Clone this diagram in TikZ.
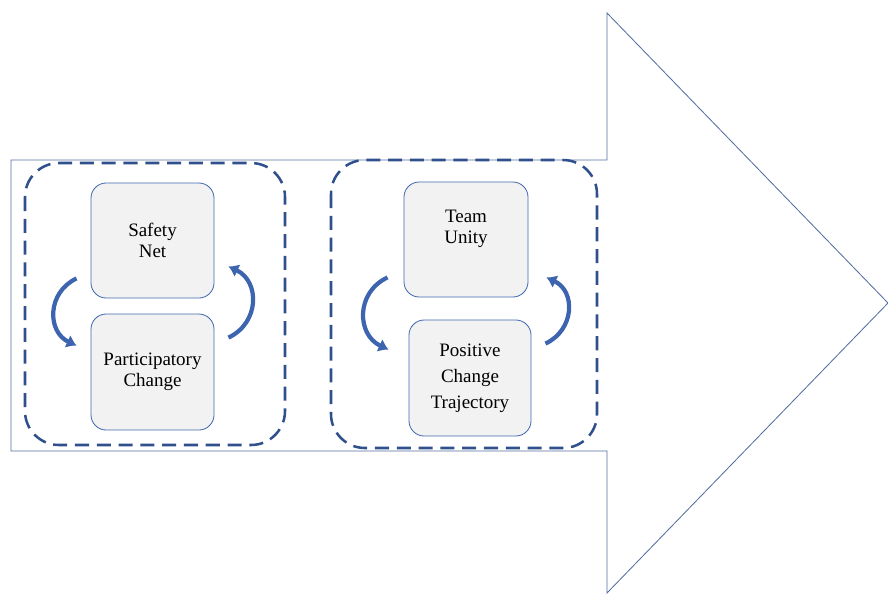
\documentclass[tikz,border=0pt]{standalone}
\usepackage{fontspec}
\setmainfont{Liberation Serif}
\newfontfamily\stagefont{Liberation Serif}
\usepackage{tikz}
\usetikzlibrary{shapes}
\usetikzlibrary{calc}
\usetikzlibrary{positioning}
\usetikzlibrary{arrows.meta}
\definecolor{outlineBlue}{RGB}{84,110,160}
\definecolor{dashBlue}{RGB}{47,80,140}
\definecolor{boxBlue}{RGB}{68,104,176}
\definecolor{curveBlue}{RGB}{60,100,175}
\definecolor{boxFill}{RGB}{242,242,242}

\begin{document}
\begin{tikzpicture}[x=0.025cm,y=-0.025cm]
			\tikzstyle{group}=[draw=dashBlue, line width=1.8pt, dash pattern=on 10pt off 5.5pt, rounded corners=0.85cm]
			\tikzstyle{stage}=[rectangle, draw=boxBlue, line width=0.6pt, fill=boxFill, rounded corners=0.38cm, align=center, font=\stagefont\fontsize{13.5}{15}\selectfont]
			\tikzstyle{cycle}=[draw=curveBlue, line width=3pt, -{Latex[length=7pt,width=10pt]}]
			\useasboundingbox (0,0) rectangle (888,595);

			\draw[outlineBlue, line width=0.6pt] (11,160) -- (607,160) -- (607,13) -- (888,303) -- (607,593) -- (607,451) -- (11,451) -- cycle;

			\draw[group] (25,163) rectangle (285,445);
			\draw[group] (331,160) rectangle (597,448);

			\node[stage, minimum width=3.075cm, minimum height=2.875cm] at (152.5, 240.5) (safetyNet) {Safety\\Net};
			\node[stage, minimum width=3.075cm, minimum height=2.9cm] at (152.5, 372) (participatoryChange) {Participatory\\Change};
			\node[stage, minimum width=3.1cm, minimum height=2.875cm] at (466, 239.5) (teamUnity) {Team\\Unity\\[0.1cm]};
			\node[stage, minimum width=3.05cm, minimum height=2.9cm, font=\stagefont\fontsize{13.5}{18.5}\selectfont] at (470, 378) (positiveChange) {Positive\\Change\\Trajectory};

			\coordinate[left=0.35cm of safetyNet.south west, yshift=0.5cm] (safetyNetPointOne);
			\coordinate[left=0.35cm of participatoryChange.north west, yshift=-0.8cm] (participatoryChangePointOne);
	  		\path[cycle] (safetyNetPointOne) to[out=205, in=155, looseness=1.25] (participatoryChangePointOne);

			\coordinate[right=0.35cm of participatoryChange.north east, yshift=-0.6cm] (participatoryChangePointTwo);
			\coordinate[right=0.35cm of safetyNet.south east, yshift=0.8cm] (safetyNetPointTwo);
	  		\path[cycle] (participatoryChangePointTwo) to[out=25, in=-25, looseness=1.25] (safetyNetPointTwo);

			\coordinate[left=0.4cm of teamUnity.south west, yshift=0.5cm] (teamUnityPointOne);
			\coordinate[left=0.5cm of positiveChange.north west, yshift=-0.75cm] (positiveChangePointOne);
	  		\path[cycle] (teamUnityPointOne) to[out=205, in=155, looseness=1.25] (positiveChangePointOne);

			\coordinate[right=0.35cm of positiveChange.north east, yshift=-0.6cm] (positiveChangePointTwo);
			\coordinate[right=0.45cm of teamUnity.south east, yshift=0.5cm] (teamUnityPointTwo);
	  		\path[cycle] (positiveChangePointTwo) to[out=25, in=-25, looseness=1.25] (teamUnityPointTwo);
		\end{tikzpicture}
\end{document}
